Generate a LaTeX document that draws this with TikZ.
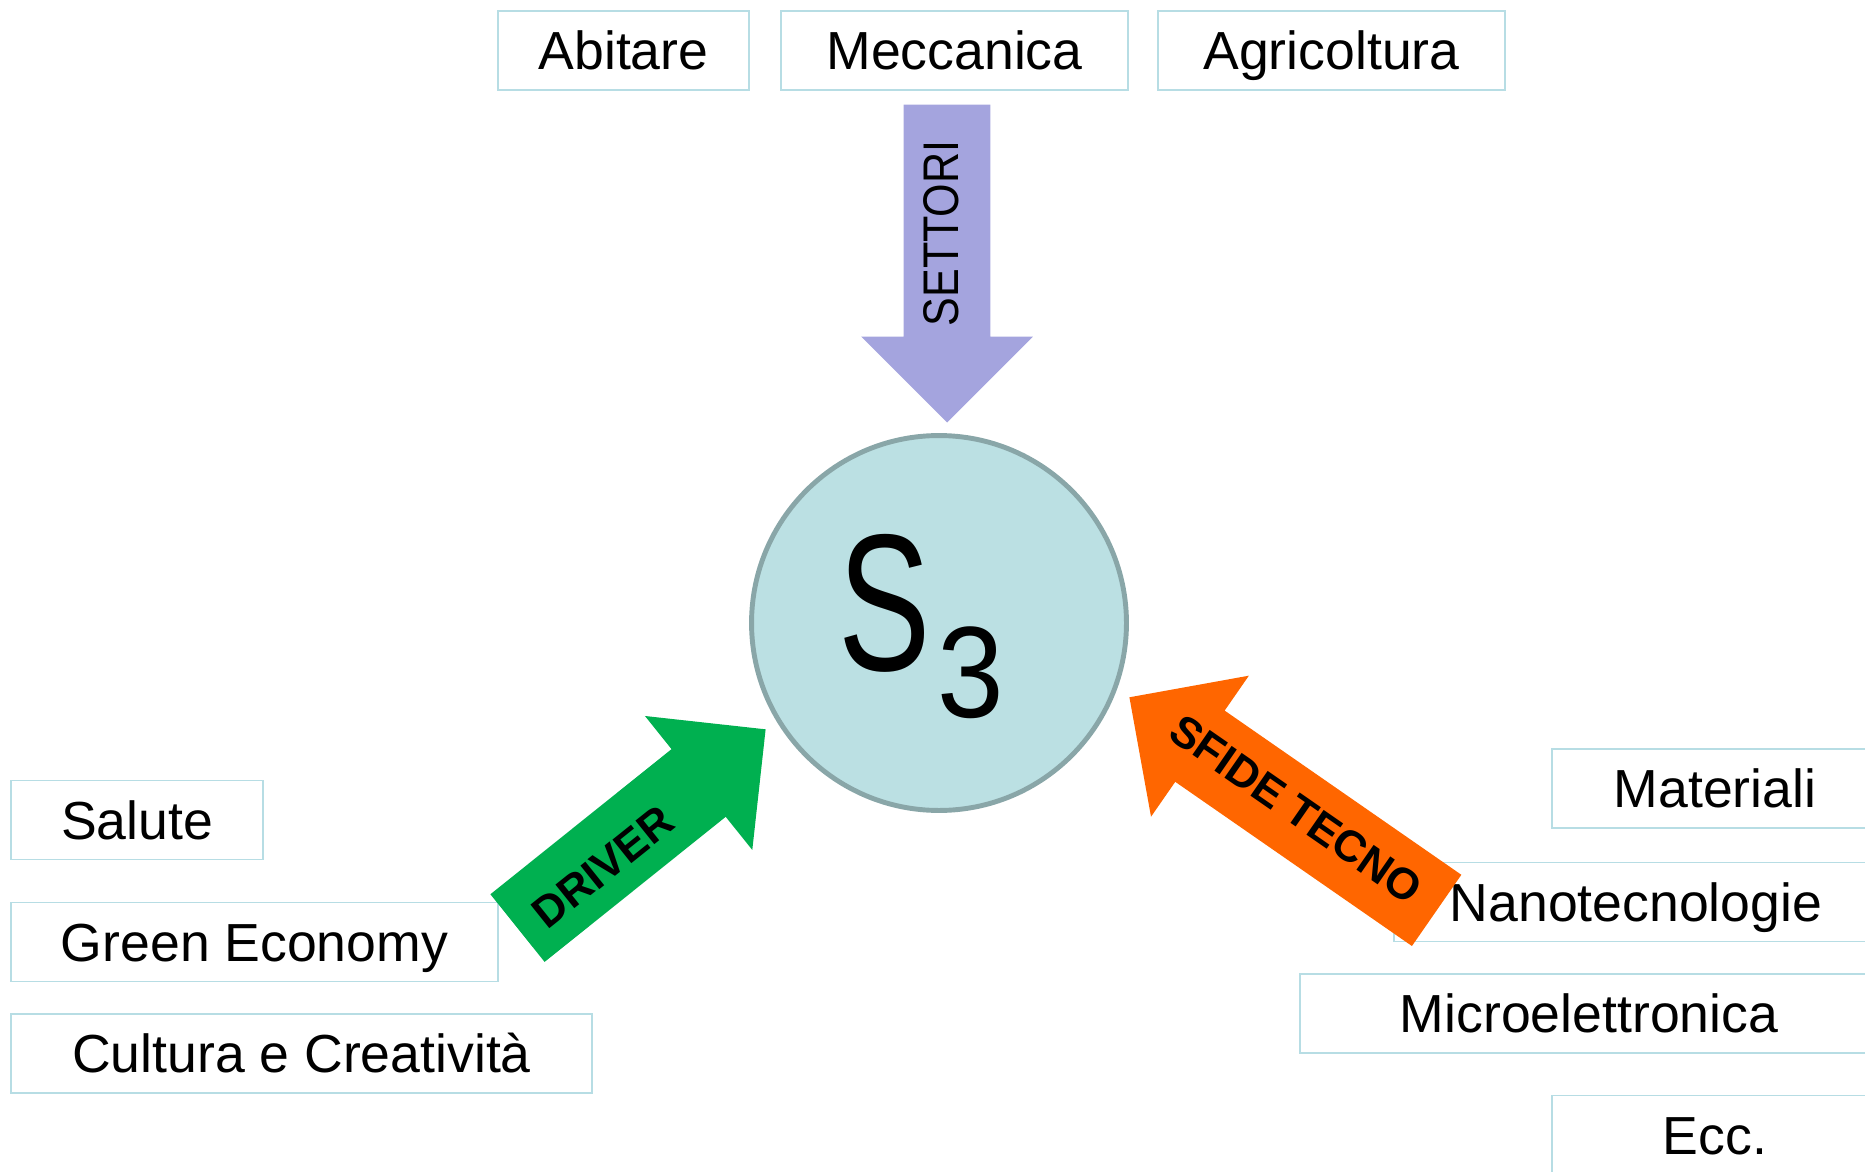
\documentclass[tikz,border=0pt]{standalone}
\usepackage{fontspec}
\setmainfont{Liberation Sans}
\usetikzlibrary{shapes.arrows}
\definecolor{bordo}{RGB}{183,221,228}
\definecolor{cerchio}{RGB}{187,224,227}
\definecolor{cerchiobordo}{RGB}{137,166,168}
\definecolor{lilla}{RGB}{164,164,222}
\definecolor{verde}{RGB}{0,176,80}
\definecolor{arancio}{RGB}{255,102,0}
\tikzset{
  voce/.style = {draw=bordo, line width=1.1pt, inner sep=0pt,
    minimum height=1.58cm, font=\fontsize{30.5}{36}\selectfont,
    text height=24.4pt, text depth=2.4pt},% riquadro di una voce
  freccia/.style = {single arrow, single arrow head extend=0.85cm,
    inner xsep=0pt, inner ysep=0.86cm, minimum width=3.42cm,
    anchor=tip},% freccia grande, posta dalla punta
  scritta/.style = {inner sep=0pt,
    font=\bfseries\fontsize{25}{29}\selectfont}% testo nelle frecce
}

\begin{document}
\begin{tikzpicture}[x=0.02cm, y=-0.02cm]
  \useasboundingbox (0,0) rectangle (1865,1172);
  \clip (0,0) rectangle (1865,1172);
  % settori
  \node [voce, minimum width=5.02cm] (abitare) at (623.5,50.5) {Abitare};
  \node [voce, minimum width=6.94cm] (meccanica) at (954.5,50.5) {Meccanica};
  \node [voce, minimum width=6.94cm] (agricoltura) at (1331.5,50.5) {Agricoltura};
  % driver
  \node [voce, minimum width=5.04cm] (salute) at (137,820) {Salute};
  \node [voce, minimum width=9.74cm] (green) at (254.5,942) {Green Economy};
  \node [voce, minimum width=11.62cm] (cultura) at (301.5,1053.5) {Cultura e Creatività};
  % sfide tecnologiche
  \node [voce, minimum width=6.52cm] (materiali) at (1715,788.5) {Materiali};
  \node [voce, minimum width=9.68cm] (nano) at (1636,902) {Nanotecnologie};
  \node [voce, minimum width=11.56cm] (micro) at (1589,1013.5) {Microelettronica};
  \node [voce, minimum width=6.52cm] (ecc) at (1715,1135) {Ecc.};

  \node [circle, fill=cerchio, draw=cerchiobordo, line width=2.8pt,
    minimum size=7.5cm] (s3) at (939,623) {};
  \node [anchor=base west, inner sep=0pt] (s3testo) at (838,670)
    {\scalebox{0.71}[1]{\fontsize{111}{120}\selectfont S}\hspace{0.14cm}%
     \raisebox{-27.3pt}{\scalebox{0.92}[1]{\fontsize{74}{80}\selectfont 3}}};

  \node [freccia, fill=lilla, minimum height=6.36cm, rotate=-90] (settori) at (947,423) {};
  \node [freccia, fill=verde, minimum height=6.36cm, rotate=38.7] (driver) at (766,729) {};
  \node [freccia, fill=arancio, minimum height=7.48cm, rotate=145.25] (sfide) at (1129,697) {};

  \node [inner sep=0pt, rotate=90, font=\fontsize{28.5}{32}\selectfont]
    (settoritesto) at (941,233.5) {\scalebox{0.86}[1]{SETTORI}};
  \node [scritta, rotate=38.7] (drivertesto) at (603,867) {DRIVER};
  \node [scritta, rotate=-34.75] (sfidetesto) at (1296,809) {SFIDE TECNO};
\end{tikzpicture}
\end{document}
